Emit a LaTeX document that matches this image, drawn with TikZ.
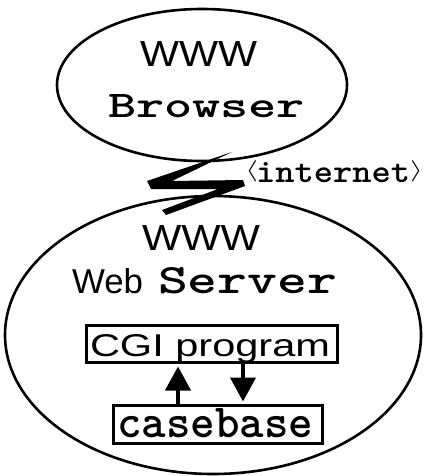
\documentclass[tikz,border=0pt]{standalone}
\usepackage{fontspec}
\setmainfont{Liberation Sans}
\usetikzlibrary{shapes.geometric,arrows.meta}
\newcommand{\tallbr}[1]{\resizebox{13pt}{21pt}{\raisebox{0.25em}{$#1$}}}
\begin{document}
\begin{tikzpicture}[x=1pt,y=-1pt,
  txt/.style={inner sep=0pt, outer sep=0pt},
  oval/.style={draw, ellipse, line width=2.6pt, inner sep=0pt},
  boxx/.style={draw, rectangle, line width=3pt, inner sep=0pt},
  flow/.style={line width=4pt, -{Triangle[width=25pt,length=24pt]}}]
\useasboundingbox (0,0) rectangle (427,476);
% ovals
\node[oval, minimum width=290pt, minimum height=152pt] (browser) at (202,85) {};
\node[oval, minimum width=416pt, minimum height=278pt] (server) at (213,335) {};
% browser texts
\node[txt, anchor=base west] (www1) at (140,67) {\resizebox{117pt}{25pt}{WWW}};
\node[txt, anchor=base west] (brw) at (108,118) {\resizebox{197pt}{23pt}{\ttfamily\bfseries Browser}};
% server texts
\node[txt, anchor=base west] (www2) at (142,250) {\resizebox{118pt}{25pt}{WWW}};
\node[txt, anchor=base west] (web) at (72,293) {\resizebox{71pt}{25pt}{Web}};
\node[txt, anchor=base west] (srv) at (158,293) {\resizebox{179pt}{26pt}{\ttfamily\bfseries Server}};
% internet label
\node[txt, anchor=base west] (inet) at (245,182) {\tallbr{\langle}\hspace{-2pt}\resizebox{154pt}{20pt}{\ttfamily\bfseries internet}\tallbr{\rangle}};
% lightning bolt
\fill (232,152) -- (147,181) -- (151,189) -- (218,189) -- (162,210) -- (166,215) -- (245,186) -- (243,180) -- (172,181) -- cycle;
% CGI program box
\node[boxx, minimum width=251pt, minimum height=37pt] (cgi) at (211.5,343.5) {};
\node[txt, anchor=base west] (cgit) at (90,356) {\resizebox{240pt}{22pt}{CGI program}};
% casebase box
\node[boxx, minimum width=209pt, minimum height=38pt] (cb) at (217.5,424) {};
\node[txt, anchor=base west] (cbt) at (117,437) {\resizebox{196pt}{29pt}{\ttfamily\bfseries casebase}};
% arrows
\coordinate (ux) at (178,0);
\coordinate (dx) at (243,0);
\draw[flow, shorten >=3pt] (cb.north -| ux) -- (cgi.south -| ux);
\draw[flow, shorten >=2pt] (cgi.south -| dx) -- (cb.north -| dx);
\end{tikzpicture}
\end{document}
